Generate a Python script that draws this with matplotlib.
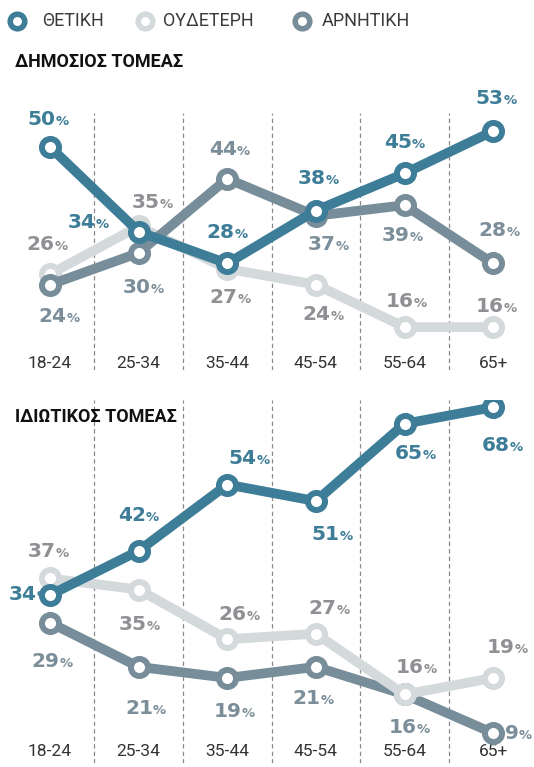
import matplotlib
matplotlib.use("Agg")
import matplotlib.pyplot as plt
from matplotlib.lines import Line2D
from matplotlib.offsetbox import TextArea, HPacker, AnnotationBbox

# ---- data -------------------------------------------------------------
ages = ["18-24", "25-34", "35-44", "45-54", "55-64", "65+"]
series_names = ["ΘΕΤΙΚΗ", "ΟΥΔΕΤΕΡΗ", "ΑΡΝΗΤΙΚΗ"]

public_pos = [50, 34, 28, 38, 45, 53]
public_neu = [26, 35, 27, 24, 16, 16]
public_neg = [24, 30, 44, 37, 39, 28]

private_pos = [34, 42, 54, 51, 65, 68]
private_neu = [37, 35, 26, 27, 16, 19]
private_neg = [29, 21, 19, 21, 16, 9]

# ---- style ------------------------------------------------------------
C_POS = "#3d7d98"
C_NEU = "#d4d9dc"
C_NEG = "#778d99"
L_POS = "#3d7d98"
L_NEU = "#8e9093"
L_NEG = "#7b8e99"
line_col = {"pos": C_POS, "neu": C_NEU, "neg": C_NEG}
lab_col = {"pos": L_POS, "neu": L_NEU, "neg": L_NEG}

# label offsets in pixels (dx right, dy down) from each point
off_public = {
    "pos": [(-2, -27), (-50, -9), (0, -31), (2, -32), (0, -31), (3, -33)],
    "neu": [(-3, -30), (14, -24), (3, 29), (7, 30), (2, -26), (3, -21)],
    "neg": [(9, 32), (5, 35), (2, -29), (12, 29), (-2, 30), (6, -33)],
}
off_private = {
    "pos": [(-21, -1), (0, -35), (22, -26), (16, 33), (11, 30), (9, 38)],
    "neu": [(-2, -27), (1, 35), (12, -25), (13, -25), (12, -27), (14, -30)],
    "neg": [(2, 39), (7, 42), (7, 34), (-3, 32), (5, 33), (25, 0)],
}

W, H = 534, 767
fig = plt.figure(figsize=(W / 100, H / 100), dpi=100)
fig.patch.set_facecolor("white")

x = list(range(len(ages)))


def add_label(ax, xi, yv, value, color, dx, dy, z):
    num = TextArea(str(value), textprops=dict(color=color, fontsize=14.5,
                                              fontweight="bold", family="DejaVu Sans"))
    pct = TextArea("%", textprops=dict(color=color, fontsize=9.5,
                                       fontweight="bold", family="DejaVu Sans"))
    box = HPacker(children=[num, pct], align="baseline", pad=0, sep=0)
    ab = AnnotationBbox(box, (xi, yv), xybox=(dx, -dy), boxcoords="offset pixels",
                        frameon=False, box_alignment=(0.5, 0.5), zorder=z)
    ax.add_artist(ab)


def panel(rect, ylim, tick_y, series, offsets, zorders, behind=None):
    ax = fig.add_axes(rect)
    ax.set_xlim(-0.564, 5.46)
    ax.set_ylim(*ylim)
    ax.axis("off")
    for b in range(len(ages) - 1):
        ax.axvline(b + 0.5, color="#8a8a8a", lw=0.9, ls=(0, (3.5, 2.5)), zorder=1)
    for i, lab in enumerate(ages):
        ax.text(i, tick_y, lab, ha="center", va="center", fontsize=12.5,
                color="#333333", family="Roboto", zorder=1)
    for key, vals in series.items():
        ax.plot(x, vals, color=line_col[key], lw=7, solid_capstyle="round",
                solid_joinstyle="round", marker="o", ms=12.3, mew=4.3,
                mfc="white", mec=line_col[key], zorder=zorders[key])
        for i, v in enumerate(vals):
            dx, dy = offsets[key][i]
            lz = 2 if behind == (key, i) else 7
            add_label(ax, i, v, v, lab_col[key], dx, dy, lz)
    return ax


# top panel: pixel rows 113..370
panel([0, 1 - 370 / H, 1, 257 / H], (7.9, 56.4), 9.2,
      {"neu": public_neu, "neg": public_neg, "pos": public_pos},
      off_public, {"neu": 3, "neg": 4, "pos": 6})

# bottom panel: pixel rows 400..763
panel([0, 1 - 763 / H, 1, 363 / H], (3.6, 69.3), 5.6,
      {"neg": private_neg, "neu": private_neu, "pos": private_pos},
      off_private, {"neg": 3, "neu": 4, "pos": 6}, behind=("pos", 0))

# titles
fig.text(15 / W, 1 - 62 / H, "ΔΗΜΟΣΙΟΣ ΤΟΜΕΑΣ", fontsize=13, fontweight="bold",
         family="Roboto", color="#111111", ha="left", va="center")
fig.text(15 / W, 1 - 417 / H, "ΙΔΙΩΤΙΚΟΣ ΤΟΜΕΑΣ", fontsize=13, fontweight="bold",
         family="Roboto", color="#111111", ha="left", va="center")

# legend
leg_x = [17, 145, 302]
txt_x = [42, 163, 322]
for name, key, lx, tx in zip(series_names, ["pos", "neu", "neg"], leg_x, txt_x):
    fig.add_artist(Line2D([lx / W], [1 - 21 / H], marker="o", ms=10.5, mew=4.0,
                          mfc="white", mec=line_col[key], ls="none",
                          transform=fig.transFigure))
    fig.text(tx / W, 1 - 21 / H, name, fontsize=13, family="Roboto",
             color="#3a3a3a", ha="left", va="center")

fig.savefig("out.png", dpi=100, facecolor="white")
